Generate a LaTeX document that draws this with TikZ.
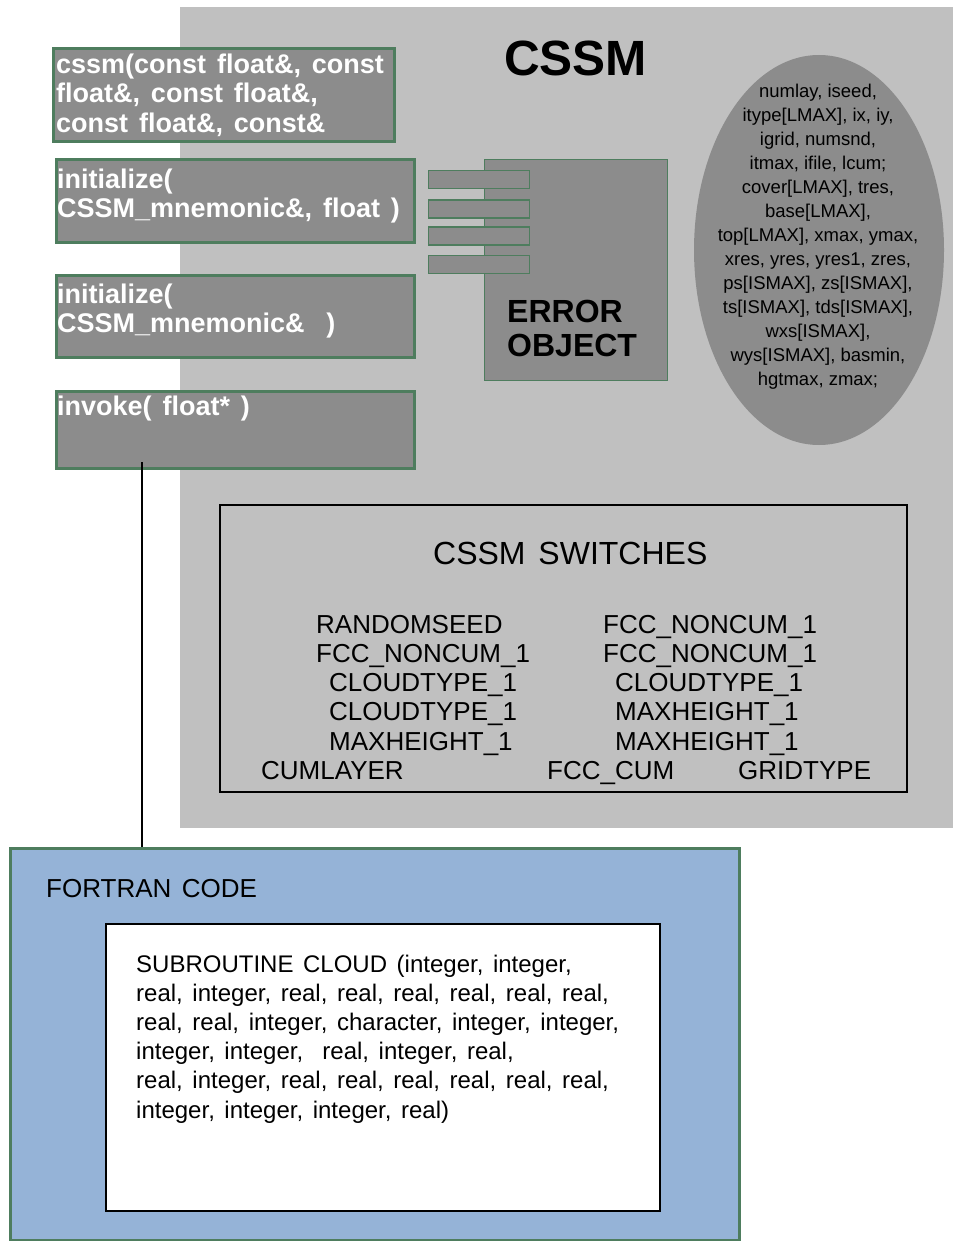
\documentclass[tikz,border=0pt]{standalone}
\usepackage{fontspec}
\setmainfont{Liberation Sans}
\newfontfamily\spaceA[WordSpace=1.3]{Liberation Sans}
\newfontfamily\spaceB[WordSpace=1.75]{Liberation Sans}
\newfontfamily\spaceC[WordSpace=1.9]{Liberation Sans}
\newfontfamily\spaceD[WordSpace=1.44]{Liberation Sans}
\usetikzlibrary{shapes.geometric}
\definecolor{panelgray}{HTML}{C0C0C0}
\definecolor{boxgray}{HTML}{8C8C8C}
\definecolor{edgegreen}{HTML}{4E7D5E}
\definecolor{fortblue}{HTML}{95B3D7}
\tikzset{
  methodbox/.style={draw=edgegreen, line width=3pt, fill=boxgray, inner sep=0pt},
  tabbox/.style={draw=edgegreen, line width=1.3pt, fill=boxgray, inner sep=0pt},
  methodtext/.style={text=white, align=left, inner sep=0pt, anchor=north west,
    font=\spaceA\fontsize{27}{29.6}\selectfont\bfseries},
  switchtext/.style={inner sep=0pt, anchor=base west, font=\fontsize{26}{29}\selectfont},
  plaintext/.style={inner sep=0pt}
}
\begin{document}
\begin{tikzpicture}[x=1pt,y=-1pt]
\useasboundingbox (0,0) rectangle (953,1241);
\fill[white] (0,0) rectangle (953,1241);

% CSSM class panel
\node[fill=panelgray, inner sep=0pt, minimum width=773pt, minimum height=821pt, anchor=north west]
  (panel) at (180,7) {};
\node[plaintext, anchor=base west, font=\fontsize{49.5}{52}\selectfont\bfseries] (title) at (504,76) {CSSM};

% method boxes
\node[methodbox, minimum width=341pt, minimum height=93pt, anchor=north west] (ctor) at (51.5,47.5) {};
\node[methodtext] (ctortxt) at (56,53.6) {cssm(const float\&, const\\float\&, const float\&,\\const float\&, const\&};

\node[methodbox, minimum width=358pt, minimum height=82.5pt, anchor=north west] (initA) at (54.5,158.5) {};
\node[methodtext] (initAtxt) at (57,168.3) {initialize(\\CSSM\_mnemonic\&, float )};

\node[methodbox, minimum width=358pt, minimum height=82pt, anchor=north west] (initB) at (54.5,274) {};
\node[methodtext] (initBtxt) at (57,283.3) {initialize(\\CSSM\_mnemonic\&\ \ )};

\node[methodbox, minimum width=358pt, minimum height=77.5pt, anchor=north west] (invoke) at (54.5,389.5) {};
\node[methodtext] (invoketxt) at (57,395.5) {invoke( float* )};

% error object with its four tabs
\node[tabbox, minimum width=183pt, minimum height=221pt, anchor=north west] (errobj) at (484,159) {};
\node[tabbox, minimum width=101pt, minimum height=18pt, anchor=north west] (tab1) at (428,170) {};
\node[tabbox, minimum width=101pt, minimum height=18pt, anchor=north west] (tab2) at (428,199.5) {};
\node[tabbox, minimum width=101pt, minimum height=18pt, anchor=north west] (tab3) at (428,226.5) {};
\node[tabbox, minimum width=101pt, minimum height=18pt, anchor=north west] (tab4) at (428,255) {};
\node[plaintext, anchor=north west, align=left, font=\fontsize{32}{34}\selectfont\bfseries] (errtxt) at (507,300) {ERROR\\OBJECT};

% data members
\node[ellipse, fill=boxgray, inner sep=0pt, minimum width=250pt, minimum height=390pt] (data) at (819,250) {};
\node[plaintext, anchor=north, align=center, font=\fontsize{18.5}{24}\selectfont] (datatxt) at (818,83.8)
  {numlay, iseed,\\itype[LMAX], ix, iy,\\igrid, numsnd,\\itmax, ifile, lcum;\\cover[LMAX], tres,\\base[LMAX],\\top[LMAX], xmax, ymax,\\xres, yres, yres1, zres,\\ps[ISMAX], zs[ISMAX],\\ts[ISMAX], tds[ISMAX],\\wxs[ISMAX],\\wys[ISMAX], basmin,\\hgtmax, zmax;};

% switches
\node[draw=black, line width=1.5pt, inner sep=0pt, minimum width=687pt, minimum height=287pt, anchor=north west]
  (switches) at (219,504) {};
\node[plaintext, anchor=base west, font=\spaceD\fontsize{32}{34}\selectfont] (swtitle) at (433,564) {CSSM SWITCHES};
\node[switchtext] (s1) at (316,633) {RANDOMSEED};
\node[switchtext] (s2) at (316,662.3) {FCC\_NONCUM\_1};
\node[switchtext] (s3) at (329,691.6) {CLOUDTYPE\_1};
\node[switchtext] (s4) at (329,720.9) {CLOUDTYPE\_1};
\node[switchtext] (s5) at (329,750.2) {MAXHEIGHT\_1};
\node[switchtext] (s6) at (261,779.5) {CUMLAYER};
\node[switchtext] (s7) at (603,633) {FCC\_NONCUM\_1};
\node[switchtext] (s8) at (603,662.3) {FCC\_NONCUM\_1};
\node[switchtext] (s9) at (615,691.6) {CLOUDTYPE\_1};
\node[switchtext] (s10) at (615,720.9) {MAXHEIGHT\_1};
\node[switchtext] (s11) at (615,750.2) {MAXHEIGHT\_1};
\node[switchtext] (s12) at (547,779.5) {FCC\_CUM};
\node[switchtext] (s13) at (738,779.5) {GRIDTYPE};

% Fortran side
\node[draw=edgegreen, line width=3pt, fill=fortblue, inner sep=0pt, minimum width=729pt, minimum height=392pt, anchor=north west]
  (fortran) at (8.5,847) {};
\node[plaintext, anchor=base west, font=\spaceC\fontsize{26}{28}\selectfont] (forttitle) at (46,897) {FORTRAN CODE};
\node[draw=black, line width=1.5pt, fill=white, inner sep=0pt, minimum width=554pt, minimum height=287pt, anchor=north west]
  (cloud) at (105,923) {};
\node[plaintext, anchor=north west, align=left, font=\spaceB\fontsize{24}{29.2}\selectfont] (cloudtxt) at (136,954.5)
  {SUBROUTINE CLOUD (integer, integer,\\real, integer, real, real, real, real, real, real,\\real, real, integer, character, integer, integer,\\integer, integer,\ \ real, integer, real,\\real, integer, real, real, real, real, real, real,\\integer, integer, integer, real)};

% call from invoke() into the Fortran routine
\coordinate (tap) at (142,462);
\draw[line width=1.3pt] (tap) -- (tap |- fortran.north);
\end{tikzpicture}
\end{document}
